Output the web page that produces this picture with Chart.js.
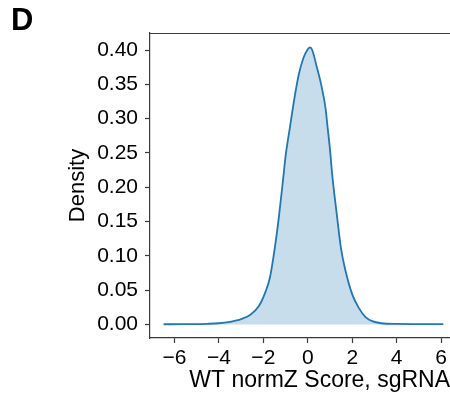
<!DOCTYPE html>
<html>
<head>
<meta charset="utf-8">
<script src="https://cdn.jsdelivr.net/npm/chart.js@4"></script>
<style>
  html, body { margin: 0; padding: 0; background: #fff; }
  #wrap { position: relative; width: 450px; height: 397px; overflow: hidden; }
  #panel { position: absolute; left: 11px; top: 4px; font: bold 31px "Liberation Sans", Arial, sans-serif; line-height: 1; color: #000; }
</style>
</head>
<body>
<div id="wrap">
  <canvas id="kde" width="450" height="397"></canvas>
  <div id="panel">D</div>
</div>
<script>
// KDE of WT normZ scores
const scores = [-6.49, -5.5, -4.5, -4.0, -3.5, -3.2, -3.0, -2.6, -2.2, -1.9, -1.7, -1.5, -1.3, -1.1, -1.0,
  -0.8, -0.6, -0.4, -0.2, 0.0, 0.1, 0.2, 0.4, 0.6, 0.8, 0.9, 1.0, 1.1, 1.3, 1.5, 1.7, 2.0, 2.3, 2.6, 2.9, 3.3,
  4.0, 5.0, 6.1];
const density = [0.0005, 0.0007, 0.0012, 0.002, 0.004, 0.006, 0.008, 0.014, 0.027, 0.048, 0.069, 0.108, 0.157, 0.215, 0.245,
  0.288, 0.330, 0.365, 0.388, 0.401, 0.404, 0.400, 0.376, 0.350, 0.315, 0.285, 0.255, 0.218, 0.162, 0.110, 0.078, 0.044, 0.024, 0.011, 0.005, 0.002,
  0.001, 0.0008, 0.0006];

const xTicks = [-6, -4, -2, 0, 2, 4, 6];
const yTicks = [0.00, 0.05, 0.10, 0.15, 0.20, 0.25, 0.30, 0.35, 0.40];

const FONT = '"Liberation Sans", Arial, Helvetica, sans-serif';
const SPINE = '#3a3a3a';

// matplotlib-style top spine
const topSpine = {
  id: 'topSpine',
  afterDraw(chart) {
    const { ctx, chartArea } = chart;
    ctx.save();
    ctx.strokeStyle = SPINE;
    ctx.lineWidth = 1.2;
    ctx.beginPath();
    ctx.moveTo(chartArea.left, chartArea.top + 0.5);
    ctx.lineTo(chartArea.right, chartArea.top + 0.5);
    ctx.stroke();
    ctx.restore();
  }
};

new Chart(document.getElementById('kde'), {
  type: 'line',
  data: {
    datasets: [{
      data: scores.map((s, i) => ({ x: s, y: density[i] })),
      borderColor: '#1f77b4',
      backgroundColor: 'rgba(31, 119, 180, 0.25)',
      borderWidth: 1.8,
      fill: 'origin',
      pointRadius: 0,
      tension: 0.4,
      cubicInterpolationMode: 'monotone'
    }]
  },
  options: {
    responsive: false,
    animation: false,
    layout: { padding: { top: 33, left: 0, right: 0, bottom: 0 } },
    plugins: { legend: { display: false }, tooltip: { enabled: false } },
    scales: {
      x: {
        type: 'linear',
        min: -7.1,
        max: 6.4,
        afterBuildTicks: s => { s.ticks = xTicks.map(v => ({ value: v })); },
        afterFit: s => { s.height = 59; },
        grid: { drawOnChartArea: false, drawTicks: true, tickLength: 5, tickColor: SPINE, tickWidth: 1.2 },
        border: { display: true, color: SPINE, width: 1.2 },
        ticks: {
          color: '#000',
          padding: 3,
          maxRotation: 0,
          font: { family: FONT, size: 21 },
          callback: v => (v < 0 ? '\u2212' + Math.abs(v) : String(v))
        },
        title: {
          display: true,
          text: 'WT normZ Score, sgRNA',
          align: 'end',
          color: '#000',
          font: { family: FONT, size: 23 },
          padding: { top: 0, bottom: 3 }
        }
      },
      y: {
        min: -0.0195,
        max: 0.4248,
        afterBuildTicks: s => { s.ticks = yTicks.map(v => ({ value: v })); },
        afterFit: s => { s.width = 150; },
        grid: { drawOnChartArea: false, drawTicks: true, tickLength: 5, tickColor: SPINE, tickWidth: 1.2 },
        border: { display: true, color: SPINE, width: 1.2 },
        ticks: {
          color: '#000',
          padding: 7,
          font: { family: FONT, size: 21 },
          callback: v => v.toFixed(2)
        },
        title: {
          display: true,
          text: 'Density',
          color: '#000',
          font: { family: FONT, size: 22 },
          padding: { top: 65, bottom: 0 }
        }
      }
    }
  },
  plugins: [topSpine]
});
</script>
</body>
</html>
